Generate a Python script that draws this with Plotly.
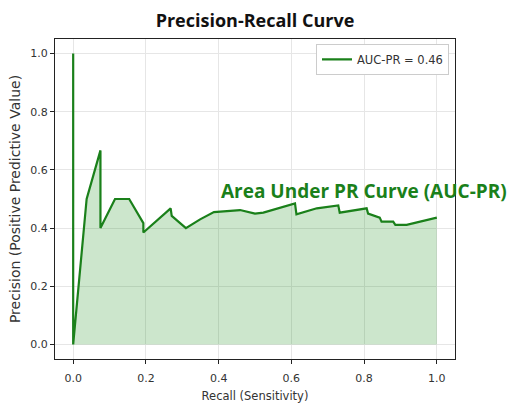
import plotly.graph_objects as go

recall = [0.0, 0.0, 0.0, 0.037, 0.075, 0.075, 0.115, 0.154, 0.193, 0.193, 0.23, 0.268, 0.271,
          0.31, 0.349, 0.387, 0.459, 0.5, 0.523, 0.61, 0.614, 0.67, 0.729, 0.733, 0.807,
          0.811, 0.843, 0.848, 0.88, 0.886, 0.917, 1.0]
precision = [1.0, 1.0, 0.0, 0.5, 0.667, 0.40, 0.5, 0.5, 0.417, 0.385, 0.425, 0.468, 0.442,
             0.40, 0.43, 0.455, 0.462, 0.45, 0.453, 0.485, 0.447, 0.468, 0.478, 0.453, 0.468,
             0.45, 0.436, 0.422, 0.422, 0.411, 0.411, 0.436]
legend_label = "AUC-PR = 0.46"
annotation_text = "Area Under PR Curve (AUC-PR)"

fig = go.Figure()
fig.add_trace(go.Scatter(
    x=recall[2:], y=precision[2:], mode="lines", fill="tozeroy",
    fillcolor="rgba(0,128,0,0.2)", line=dict(width=0), showlegend=False, hoverinfo="skip"))
fig.add_trace(go.Scatter(
    x=recall, y=precision, mode="lines", name=legend_label,
    line=dict(color="#1a801a", width=2.2)))

fig.add_annotation(x=0.40, y=0.527, text="<b>" + annotation_text + "</b>", showarrow=False,
                   xanchor="left", yanchor="middle",
                   font=dict(size=19, color="#1a801a", family="Open Sans"))

axis_common = dict(showline=True, linecolor="#222", linewidth=1, mirror=True,
                   ticks="outside", ticklen=4, tickcolor="#222", showgrid=True,
                   gridcolor="#e6e6e6", gridwidth=1, zeroline=False, automargin=False,
                   tickfont=dict(size=11, color="#333"), range=[-0.05, 1.05],
                   tickvals=[0, 0.2, 0.4, 0.6, 0.8, 1.0], tickformat=".1f")

fig.update_layout(
    width=510, height=403,
    margin=dict(l=55, r=55, t=39, b=44, autoexpand=False),
    paper_bgcolor="white", plot_bgcolor="white",
    font=dict(family="DejaVu Sans", color="#333"),
    title=dict(text="<b>Precision-Recall Curve</b>", x=0.5, xanchor="center",
               y=0.948, yanchor="middle", font=dict(size=18, color="#111", family="Open Sans")),
    xaxis=dict(**axis_common, ticklabelstandoff=5,
               title=dict(text="Recall (Sensitivity)", font=dict(size=11.5, color="#333"), standoff=10)),
    yaxis=dict(**axis_common, title=dict(text="Precision (Positive Predictive Value)", font=dict(size=14, color="#333"), standoff=6)),
    legend=dict(x=0.985, y=0.985, xanchor="right", yanchor="top", bgcolor="white",
                bordercolor="#ccc", borderwidth=1, font=dict(size=11.5, color="#333")),
)

fig.write_html("out.html")
